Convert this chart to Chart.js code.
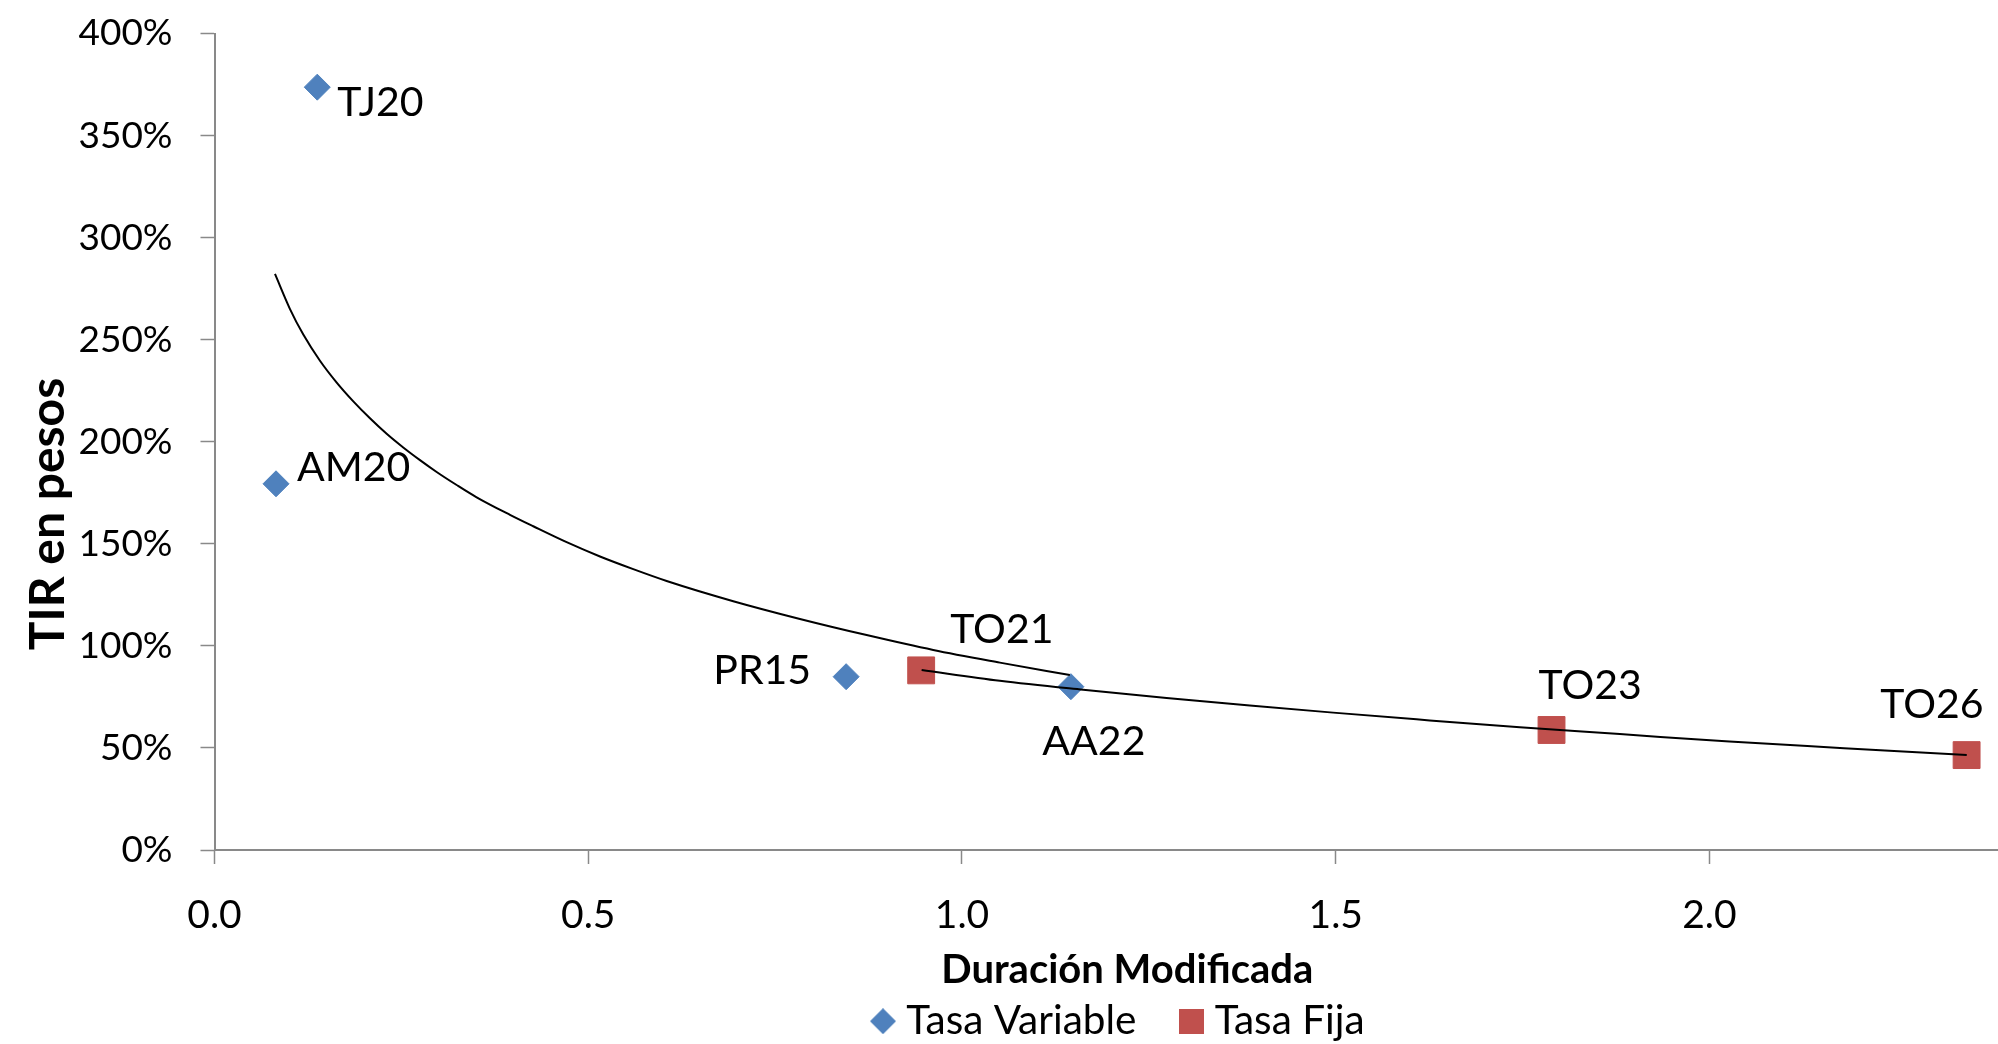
<!DOCTYPE html>
<html><head><meta charset="utf-8">
<script src="https://cdn.jsdelivr.net/npm/chart.js@4.4.1/dist/chart.umd.min.js"></script>
<style>html,body{margin:0;padding:0;background:#fff;} canvas{display:block;}</style>
</head><body>
<canvas id="c" width="1998" height="1044"></canvas>
<script>
// ---- data ----
const variableNames = ['TJ20', 'AM20', 'PR15', 'AA22'];
const variableDuration = [0.1375, 0.0823, 0.845, 1.1457];
const variableTIR = [373.7, 179.4, 84.9, 80.0];

const fijaNames = ['TO21', 'TO23', 'TO26'];
const fijaDuration = [0.9454, 1.7887, 2.344];
const fijaTIR = [88.0, 58.8, 46.5];

// trend lines
const variableTrendX = [0.0809, 0.1010, 0.1188, 0.1411, 0.1635, 0.1857, 0.2080, 0.2303, 0.2525, 0.2749, 0.2972, 0.3240, 0.3507, 0.3953, 0.4264, 0.4711, 0.5157, 0.5602, 0.6049, 0.6940, 0.7832, 0.8724, 0.9615, 1.0507, 1.1443];
const variableTrendY = [282.2, 265.0, 252.5, 239.7, 229.0, 219.8, 211.5, 203.9, 197.2, 191.0, 185.2, 178.8, 172.8, 164.2, 158.6, 150.8, 143.8, 137.6, 131.8, 121.9, 113.2, 105.3, 98.0, 91.8, 85.7];
const fijaTrendX = [0.9460, 1.0507, 1.1621, 1.2737, 1.3851, 1.4965, 1.6081, 1.7463, 1.8800, 2.0267, 2.1800, 2.3442];
const fijaTrendY = [88.2, 82.9, 78.5, 74.5, 70.8, 67.3, 64.0, 60.1, 56.8, 53.1, 49.9, 46.5];

const xTickValues = [0, 0.5, 1, 1.5, 2];
const xTickLabels = ['0.0', '0.5', '1.0', '1.5', '2.0'];
const yTickValues = [0, 50, 100, 150, 200, 250, 300, 350, 400];
const yTickLabels = ['0%', '50%', '100%', '150%', '200%', '250%', '300%', '350%', '400%'];

const seriesNames = ['Tasa Variable', 'Tasa Fija'];
const xTitle = 'Duración Modificada';
const yTitle = 'TIR en pesos';

// ---- styling ----
const BLUE = '#4F81BD';
const RED = '#C0504D';
const AXIS = '#898989';
const FONT = 'Lato, "Open Sans", sans-serif';

const labelPlacement = {
  TJ20: {dx: 20, dy: 29, align: 'left'},
  AM20: {dx: 21, dy: -3, align: 'left'},
  PR15: {dx: -35, dy: 7, align: 'right'},
  AA22: {dx: 23, dy: 68, align: 'center'},
  TO21: {dx: 29, dy: -27, align: 'left'},
  TO23: {dx: -13, dy: -31, align: 'left'},
  TO26: {dx: 17, dy: -37, align: 'right'}
};

function makeIcon(kind, size, color) {
  const c = document.createElement('canvas');
  c.width = size; c.height = size;
  const g = c.getContext('2d');
  g.fillStyle = color;
  if (kind === 'diamond') {
    g.beginPath();
    g.moveTo(size / 2, 0); g.lineTo(size, size / 2); g.lineTo(size / 2, size); g.lineTo(0, size / 2);
    g.closePath(); g.fill();
  } else {
    g.fillRect(0, 0, size, size);
  }
  return c;
}
const legendIcons = [makeIcon('diamond', 26, BLUE), makeIcon('square', 25, RED)];

const pointLabelsPlugin = {
  id: 'pointLabels',
  afterDatasetsDraw(chart) {
    const ctx = chart.ctx;
    ctx.save();
    ctx.fillStyle = '#000';
    ctx.font = '41px ' + FONT;
    ctx.textBaseline = 'alphabetic';
    chart.data.datasets.forEach((ds, di) => {
      if (!ds.names) return;
      const meta = chart.getDatasetMeta(di);
      meta.data.forEach((el, i) => {
        const name = ds.names[i];
        const p = labelPlacement[name];
        ctx.textAlign = p.align;
        ctx.fillText(name, el.x + p.dx, el.y + p.dy);
      });
    });
    ctx.restore();
  }
};

const axisTitlesPlugin = {
  id: 'axisTitles',
  afterDraw(chart) {
    const ctx = chart.ctx;
    const a = chart.chartArea;
    ctx.save();
    ctx.fillStyle = '#000';
    // x title
    ctx.font = 'bold 40px ' + FONT;
    ctx.textAlign = 'center';
    ctx.textBaseline = 'alphabetic';
    ctx.fillText(xTitle, (a.left + a.right) / 2 + 21, a.bottom + 133);
    // y title
    ctx.font = 'bold 48px ' + FONT;
    ctx.translate(a.left - 151, a.bottom - 336);
    ctx.rotate(-Math.PI / 2);
    ctx.fillText(yTitle, 0, 0);
    ctx.restore();
  }
};

const legendShiftPlugin = {
  id: 'legendShift',
  afterLayout(chart) {
    if (chart.legend) {
      chart.legend.left += 16;
      chart.legend.right += 16;
    }
  }
};

function build() {
  const toPts = (xs, ys) => xs.map((x, i) => ({x, y: ys[i]}));
  new Chart(document.getElementById('c'), {
    type: 'scatter',
    data: {
      datasets: [
        {label: 'trend variable', data: toPts(variableTrendX, variableTrendY), showLine: true, borderColor: '#000', borderWidth: 2, pointRadius: 0, cubicInterpolationMode: 'monotone', fill: false},
        {label: 'trend fija', data: toPts(fijaTrendX, fijaTrendY), showLine: true, borderColor: '#000', borderWidth: 2, pointRadius: 0, cubicInterpolationMode: 'monotone', fill: false},
        {label: seriesNames[0], names: variableNames, data: toPts(variableDuration, variableTIR), pointStyle: 'rectRot', pointRadius: 13, pointHoverRadius: 13, backgroundColor: BLUE, borderColor: BLUE, borderWidth: 1, legendIcon: legendIcons[0]},
        {label: seriesNames[1], names: fijaNames, data: toPts(fijaDuration, fijaTIR), pointStyle: 'rect', pointRadius: 19, pointHoverRadius: 19, backgroundColor: RED, borderColor: RED, borderWidth: 1, legendIcon: legendIcons[1]}
      ]
    },
    options: {
      responsive: false,
      animation: false,
      devicePixelRatio: 1,
      layout: {autoPadding: false, padding: {top: 33.5, right: 0, left: 0, bottom: 0}},
      plugins: {
        tooltip: {enabled: false},
        legend: {
          position: 'bottom',
          fullSize: false,
          maxHeight: 95,
          labels: {
            usePointStyle: true,
            boxWidth: 6,
            boxHeight: 6,
            padding: 52,
            color: '#000',
            font: {family: FONT, size: 40.5},
            filter: item => item.datasetIndex >= 2,
            generateLabels: chart => {
              const items = Chart.defaults.plugins.legend.labels.generateLabels(chart);
              return items.map(it => {
                const ds = chart.data.datasets[it.datasetIndex];
                if (ds.legendIcon) it.pointStyle = ds.legendIcon;
                return it;
              });
            }
          }
        }
      },
      scales: {
        x: {
          type: 'linear',
          min: 0,
          max: 2.386,
          afterFit: s => { s.height = 99; s.paddingLeft = 0; s.paddingRight = 0; },
          afterBuildTicks: s => { s.ticks = xTickValues.map(v => ({value: v})); },
          ticks: {
            color: '#000',
            font: {family: FONT, size: 39},
            padding: 28,
            maxRotation: 0,
            autoSkip: false,
            callback: (v) => xTickLabels[xTickValues.indexOf(v)]
          },
          grid: {display: true, drawOnChartArea: false, drawTicks: true, tickLength: 14, color: AXIS, tickWidth: 1.5},
          border: {display: true, color: AXIS, width: 2},
          title: {display: false}
        },
        y: {
          type: 'linear',
          min: 0,
          max: 400,
          afterFit: s => { s.width = 214.5; s.paddingTop = 0; s.paddingBottom = 0; },
          afterBuildTicks: s => { s.ticks = yTickValues.map(v => ({value: v})); },
          ticks: {
            color: '#000',
            font: {family: FONT, size: 37},
            padding: 28,
            autoSkip: false,
            callback: (v) => yTickLabels[yTickValues.indexOf(v)]
          },
          grid: {display: true, drawOnChartArea: false, drawTicks: true, tickLength: 14, color: AXIS, tickWidth: 1.5},
          border: {display: true, color: AXIS, width: 2},
          title: {display: false}
        }
      }
    },
    plugins: [pointLabelsPlugin, axisTitlesPlugin, legendShiftPlugin]
  });
}

const fontLoads = ['37px Lato', 'bold 40px Lato', 'bold 48px Lato'].map(f => document.fonts ? document.fonts.load(f) : Promise.resolve());
Promise.all(fontLoads).then(build, build);
</script>
</body></html>
